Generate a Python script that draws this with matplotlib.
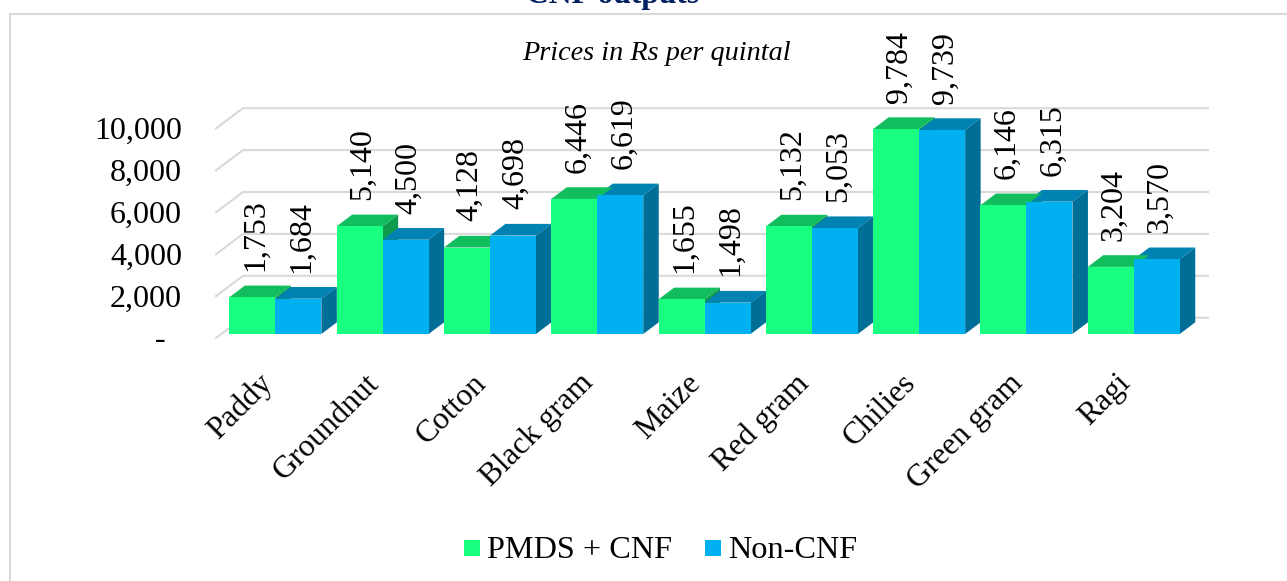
import matplotlib
matplotlib.use('Agg')
import matplotlib.pyplot as plt
from matplotlib.patches import Polygon, Rectangle

plt.rcParams['font.family'] = ['Liberation Serif']

crops = ['Paddy', 'Groundnut', 'Cotton', 'Black gram', 'Maize', 'Red gram', 'Chilies', 'Green gram', 'Ragi']
cnf = [1753, 5140, 4128, 6446, 1655, 5132, 9784, 6146, 3204]
non_cnf = [1684, 4500, 4698, 6619, 1498, 5053, 9739, 6315, 3570]
y_ticks = [0, 2000, 4000, 6000, 8000, 10000]
y_labels = ['-  ', '2,000', '4,000', '6,000', '8,000', '10,000']

W, H = 1287, 581

# pixel geometry of the front plane of the bars
left, right = 221.7, 1187.4
base, top = 334.0, 124.5

fig = plt.figure(figsize=(W / 100, H / 100), dpi=100)
ax = fig.add_axes([left / W, 1 - base / H, (right - left) / W, (base - top) / H])
ax.set_xlim(-0.5, 8.5)
ax.set_ylim(0, 10000)
ax.axis('off')

px_x = 9 / (right - left)
px_y = 10000 / (base - top)

bar_w = 46 / 107.3
depth_x = 15.5 * px_x
depth_y = 11.7 * px_y


def draw_front(x, val, color, z):
    ax.add_patch(Rectangle((x, 0), bar_w, val, fc=color, ec='none', zorder=z, clip_on=False))


def draw_top(x, val, color, z):
    x1 = x + bar_w
    ax.add_patch(Polygon([(x, val), (x1, val), (x1 + depth_x, val + depth_y), (x + depth_x, val + depth_y)],
                         fc=color, ec='none', zorder=z, clip_on=False))


def draw_side(x, val, color, z):
    x1 = x + bar_w
    ax.add_patch(Polygon([(x1, 0), (x1 + depth_x, depth_y), (x1 + depth_x, val + depth_y), (x1, val)],
                         fc=color, ec='none', zorder=z, clip_on=False))


# back wall gridlines with the short floor stubs on the left
for t, lab in zip(y_ticks, y_labels):
    fx = -0.5 - 5.7 * px_x
    fy = t - 4 * px_y
    bx = fx + 27 * px_x
    by = fy + 20.3 * px_y
    ax.plot([fx, bx, 8.5 + 20.6 * px_x], [fy, by, by], color='#d9d9d9', lw=1.5, zorder=1, clip_on=False)
    ax.text(fx - 34 * px_x, fy - 3 * px_y, lab, ha='right', va='center', fontsize=23, color='black')

for i in range(len(crops)):
    # paint order keeps each box's hidden faces covered by its neighbour
    z = 3 + i
    draw_side(i - bar_w, cnf[i], '#0e9a4c', z)
    draw_top(i, non_cnf[i], '#0082b2', z + 0.1)
    draw_side(i, non_cnf[i], '#006f98', z + 0.1)
    draw_top(i - bar_w, cnf[i], '#12bd5e', z + 0.2)
    draw_front(i - bar_w, cnf[i], '#19ff7f', z + 0.2)
    draw_front(i, non_cnf[i], '#00b0f0', z + 0.3)
    ax.text(i - bar_w / 2 + 0.03, cnf[i] + 1250, format(cnf[i], ','), rotation=90, ha='center', va='bottom',
            fontsize=23, color='black', zorder=20)
    ax.text(i + bar_w / 2 + 0.03, non_cnf[i] + 1250, format(non_cnf[i], ','), rotation=90, ha='center', va='bottom',
            fontsize=23, color='black', zorder=20)
    ax.annotate(crops[i], (i, 0), xytext=(-13, -25), textcoords='offset points', rotation=45, ha='right', va='top',
                rotation_mode='anchor', fontsize=22.7, color='black')

# chart border, open at the bottom and right
fig.add_artist(plt.Line2D([10 / W, 10 / W, 1], [0, 1 - 14 / H, 1 - 14 / H], color='#d9d9d9', lw=1.5))

fig.text(613 / W, 1 - 2.5 / H, 'CNF outputs', ha='center', va='baseline', fontsize=22.7, fontweight='bold', color='#002060')
fig.text(656 / W, 1 - 53.5 / H, 'Prices in Rs per quintal', ha='center', va='center', fontsize=20.3, style='italic')

# legend
fig.add_artist(Rectangle((464 / W, 1 - 556 / H), 16 / W, 16 / H, fc='#19ff7f', ec='none', transform=fig.transFigure))
fig.add_artist(Rectangle((705 / W, 1 - 556 / H), 16 / W, 16 / H, fc='#00b0f0', ec='none', transform=fig.transFigure))
fig.text(487 / W, 1 - 550.5 / H, 'PMDS + CNF', ha='left', va='center', fontsize=23.2)
fig.text(728 / W, 1 - 550.5 / H, 'Non-CNF', ha='left', va='center', fontsize=23.2)

fig.savefig('out.png', dpi=100)
